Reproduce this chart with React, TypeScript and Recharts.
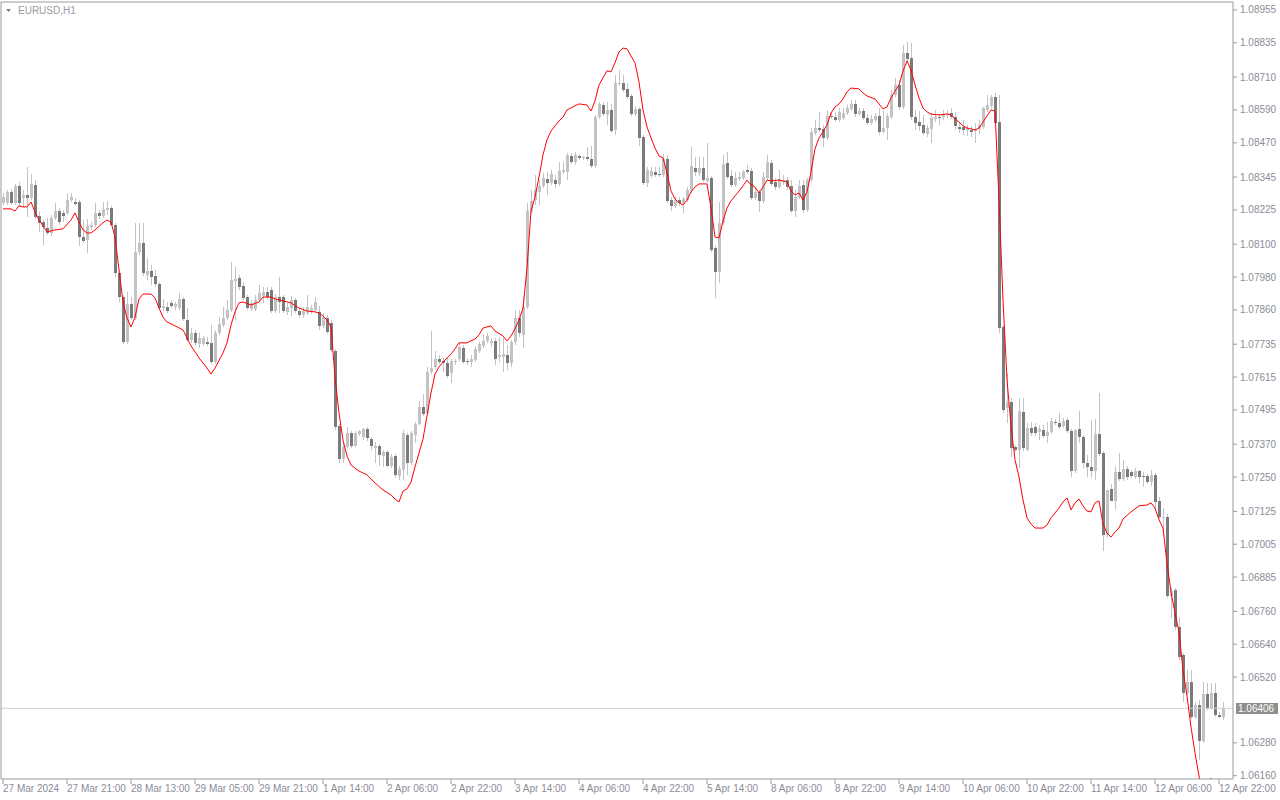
import { ComposedChart, Bar, Line, XAxis, YAxis, ReferenceLine } from 'recharts'

// EURUSD H1, 27 Mar 2024 05:00 .. 12 Apr 2024 23:00 (one entry per bar)
const timeLabels = [
  '27 Mar 2024', '27 Mar 21:00', '28 Mar 13:00', '29 Mar 05:00', '29 Mar 21:00',
  '1 Apr 14:00', '2 Apr 06:00', '2 Apr 22:00', '3 Apr 14:00', '4 Apr 06:00',
  '4 Apr 22:00', '5 Apr 14:00', '8 Apr 06:00', '8 Apr 22:00', '9 Apr 14:00',
  '10 Apr 06:00', '10 Apr 22:00', '11 Apr 14:00', '12 Apr 06:00', '12 Apr 22:00',
]
const tickBars = [0, 16, 32, 48, 64, 80, 96, 112, 128, 144, 160, 176, 192, 208, 224, 240, 256, 272, 288, 304]

const priceTicks = [
  1.08955, 1.08835, 1.0871, 1.0859, 1.0847, 1.08345, 1.08225, 1.081, 1.0798, 1.0786, 1.07735, 1.07615,
  1.07495, 1.0737, 1.0725, 1.07125, 1.07005, 1.06885, 1.0676, 1.0664, 1.0652, 1.0628, 1.0616,
]
const lastPrice = 1.06406

const opens = [
  1.08251, 1.08251, 1.08291, 1.08251, 1.08313, 1.08269, 1.0828, 1.08269, 1.08316, 1.08203,
  1.08181, 1.08159, 1.08141, 1.08196, 1.08221, 1.08214, 1.08214, 1.08261, 1.08254, 1.08254,
  1.08126, 1.08115, 1.08163, 1.0817, 1.08214, 1.08203, 1.08225, 1.08232, 1.0817, 1.07995,
  1.07907, 1.07743, 1.07882, 1.07831, 1.08072, 1.08105, 1.07988, 1.08002, 1.07984, 1.07955,
  1.07867, 1.07871, 1.07886, 1.07871, 1.07867, 1.079, 1.07823, 1.0775, 1.07776, 1.07736,
  1.07736, 1.07743, 1.0774, 1.0767, 1.07776, 1.07805, 1.07831, 1.0786, 1.07966, 1.07977,
  1.07948, 1.07907, 1.07864, 1.07864, 1.07896, 1.07911, 1.07926, 1.07933, 1.07856, 1.07907,
  1.07907, 1.07853, 1.07867, 1.07896, 1.07856, 1.07842, 1.07849, 1.07853, 1.0786, 1.07853,
  1.07802, 1.07831, 1.07813, 1.0771, 1.07437, 1.07316, 1.0736, 1.07411, 1.07364, 1.07407,
  1.07396, 1.07426, 1.07389, 1.07356, 1.07364, 1.07327, 1.07342, 1.07291, 1.07327, 1.07254,
  1.07276, 1.07404, 1.07302, 1.07404, 1.07444, 1.07506, 1.07484, 1.07634, 1.07652, 1.07681,
  1.07674, 1.07667, 1.0763, 1.0767, 1.07681, 1.07721, 1.07674, 1.0767, 1.07677, 1.0771,
  1.07729, 1.07747, 1.0774, 1.07747, 1.07688, 1.07688, 1.07696, 1.07667, 1.07743, 1.07831,
  1.07769, 1.07871, 1.08218, 1.08261, 1.08291, 1.08313, 1.08338, 1.08324, 1.08334, 1.0832,
  1.08364, 1.08364, 1.08422, 1.084, 1.08422, 1.08415, 1.08418, 1.08411, 1.08386, 1.08564,
  1.08608, 1.08572, 1.0859, 1.08517, 1.08685, 1.08689, 1.08667, 1.08641, 1.08575, 1.08594,
  1.08491, 1.08324, 1.08349, 1.08364, 1.08356, 1.08353, 1.08411, 1.08261, 1.0824, 1.08261,
  1.08251, 1.08261, 1.08294, 1.08378, 1.0836, 1.08378, 1.08331, 1.08342, 1.08086, 1.07999,
  1.08178, 1.08397, 1.08349, 1.08316, 1.08338, 1.08342, 1.08371, 1.08367, 1.08269, 1.08291,
  1.08258, 1.08342, 1.08397, 1.08327, 1.08309, 1.08327, 1.08334, 1.08313, 1.08221, 1.08272,
  1.08316, 1.08225, 1.08334, 1.08506, 1.08524, 1.08521, 1.08488, 1.08568, 1.08564, 1.08553,
  1.08561, 1.08579, 1.08594, 1.08612, 1.08575, 1.08586, 1.08561, 1.08543, 1.08553, 1.08568,
  1.0851, 1.08524, 1.08564, 1.08645, 1.08681, 1.08601, 1.08798, 1.0878, 1.08564, 1.08546,
  1.08535, 1.08502, 1.08521, 1.08557, 1.08564, 1.08564, 1.08575, 1.08579, 1.08564, 1.08528,
  1.08528, 1.08517, 1.08517, 1.08513, 1.08521, 1.08528, 1.0859, 1.08605, 1.08637, 1.08546,
  1.07798, 1.07502, 1.07524, 1.0736, 1.07349, 1.07488, 1.07349, 1.07429, 1.07433, 1.07415,
  1.07422, 1.074, 1.07415, 1.07451, 1.07448, 1.07437, 1.07459, 1.07418, 1.07272, 1.07426,
  1.07396, 1.07302, 1.07287, 1.07272, 1.07407, 1.07338, 1.07039, 1.07207, 1.07163, 1.07269,
  1.07243, 1.0728, 1.07269, 1.0725, 1.07272, 1.07254, 1.07254, 1.07232, 1.07258, 1.07163,
  1.07101, 1.07104, 1.06816, 1.06838, 1.06703, 1.06601, 1.06462, 1.06502, 1.06374, 1.06418,
  1.06287, 1.06458, 1.06407, 1.06462, 1.06382, 1.06374,
]

const highs = [
  1.08287, 1.08298, 1.08302, 1.0832, 1.08327, 1.08298, 1.08382, 1.08356, 1.08334, 1.08218,
  1.08188, 1.08196, 1.08207, 1.08251, 1.08232, 1.08225, 1.08287, 1.08287, 1.08269, 1.08261,
  1.08188, 1.08192, 1.08181, 1.08251, 1.08225, 1.08254, 1.08258, 1.0824, 1.08178, 1.08006,
  1.07915, 1.07926, 1.07907, 1.08178, 1.08178, 1.08178, 1.0805, 1.08024, 1.08006, 1.07962,
  1.079, 1.07889, 1.07896, 1.07889, 1.07922, 1.07907, 1.07867, 1.07794, 1.07787, 1.07776,
  1.07765, 1.07761, 1.07805, 1.07787, 1.07834, 1.07871, 1.07896, 1.08035, 1.08017, 1.07988,
  1.07962, 1.07915, 1.07896, 1.07915, 1.07951, 1.07944, 1.07944, 1.07944, 1.07918, 1.0798,
  1.07915, 1.07886, 1.07911, 1.07904, 1.07867, 1.07871, 1.07915, 1.07878, 1.07907, 1.07875,
  1.07849, 1.07842, 1.07823, 1.07718, 1.07444, 1.07375, 1.07433, 1.07418, 1.07418, 1.07422,
  1.07429, 1.07433, 1.07396, 1.07378, 1.07371, 1.07349, 1.07349, 1.07334, 1.07334, 1.07291,
  1.07422, 1.07411, 1.07418, 1.07451, 1.07528, 1.07553, 1.07652, 1.07783, 1.0771, 1.07696,
  1.07685, 1.07685, 1.07681, 1.07681, 1.0774, 1.07732, 1.07685, 1.07696, 1.07729, 1.07743,
  1.07772, 1.07776, 1.07758, 1.07758, 1.07761, 1.07758, 1.07732, 1.0775, 1.0786, 1.0786,
  1.07907, 1.08251, 1.08298, 1.08353, 1.08334, 1.0836, 1.08364, 1.08371, 1.08353, 1.084,
  1.084, 1.08433, 1.08433, 1.08437, 1.08429, 1.08422, 1.08455, 1.08459, 1.08572, 1.08619,
  1.08619, 1.08619, 1.08612, 1.08718, 1.08736, 1.08718, 1.08689, 1.08648, 1.08605, 1.08601,
  1.08499, 1.08382, 1.08382, 1.08382, 1.08382, 1.08429, 1.08426, 1.08272, 1.08272, 1.08272,
  1.08272, 1.08309, 1.08455, 1.08418, 1.08418, 1.08418, 1.0847, 1.08349, 1.08097, 1.08254,
  1.08426, 1.08437, 1.08371, 1.08364, 1.08364, 1.08371, 1.08389, 1.08378, 1.08305, 1.08298,
  1.08364, 1.08426, 1.08407, 1.08342, 1.08371, 1.08353, 1.08345, 1.08334, 1.08298, 1.08334,
  1.08334, 1.08342, 1.08524, 1.08553, 1.08583, 1.08535, 1.0859, 1.08583, 1.08583, 1.08597,
  1.08597, 1.08608, 1.08626, 1.08626, 1.08597, 1.08597, 1.08575, 1.08572, 1.08579, 1.08597,
  1.0859, 1.08579, 1.08663, 1.08707, 1.087, 1.08827, 1.08838, 1.08835, 1.0859, 1.08586,
  1.08572, 1.08535, 1.08579, 1.0859, 1.08572, 1.0859, 1.0859, 1.08597, 1.08583, 1.08543,
  1.08553, 1.08535, 1.08532, 1.08543, 1.08553, 1.08601, 1.08645, 1.08645, 1.08652, 1.08645,
  1.07805, 1.0763, 1.07539, 1.07367, 1.07539, 1.07539, 1.07448, 1.07451, 1.07448, 1.0744,
  1.0744, 1.07451, 1.07466, 1.07462, 1.07484, 1.07466, 1.07466, 1.07426, 1.07426, 1.07491,
  1.07404, 1.07331, 1.07459, 1.07462, 1.07557, 1.07345, 1.07203, 1.07225, 1.07291, 1.07338,
  1.07312, 1.07291, 1.07276, 1.07283, 1.07276, 1.07269, 1.07261, 1.07276, 1.07265, 1.07177,
  1.07137, 1.07115, 1.06845, 1.06845, 1.06739, 1.06608, 1.06546, 1.06546, 1.06429, 1.06436,
  1.06502, 1.06498, 1.06498, 1.06498, 1.06393, 1.06429,
]

const lows = [
  1.08243, 1.08243, 1.08243, 1.08243, 1.08236, 1.08236, 1.08199, 1.08261, 1.08192, 1.08145,
  1.08097, 1.08134, 1.0813, 1.08188, 1.0817, 1.08181, 1.08207, 1.08254, 1.0824, 1.08094,
  1.08105, 1.08068, 1.08152, 1.08163, 1.08192, 1.08196, 1.08207, 1.08163, 1.0798, 1.07889,
  1.07736, 1.07736, 1.07823, 1.07823, 1.08061, 1.07984, 1.07969, 1.07951, 1.07944, 1.0786,
  1.07856, 1.07849, 1.07867, 1.0786, 1.0786, 1.0782, 1.07743, 1.0774, 1.07729, 1.07721,
  1.07729, 1.07729, 1.07663, 1.07663, 1.07769, 1.07798, 1.07823, 1.07853, 1.07823, 1.07933,
  1.07896, 1.0786, 1.07856, 1.07856, 1.07889, 1.07886, 1.07896, 1.07849, 1.07849, 1.07849,
  1.07849, 1.07842, 1.07838, 1.07849, 1.07831, 1.07831, 1.07842, 1.07845, 1.07853, 1.07787,
  1.07794, 1.07772, 1.07707, 1.07422, 1.07302, 1.07302, 1.07353, 1.07356, 1.0736, 1.074,
  1.07385, 1.07382, 1.07349, 1.07302, 1.07291, 1.07287, 1.07287, 1.07283, 1.07247, 1.07239,
  1.07239, 1.07258, 1.07294, 1.07375, 1.07437, 1.07473, 1.07477, 1.07626, 1.07645, 1.07663,
  1.07634, 1.07612, 1.07594, 1.07659, 1.07674, 1.07663, 1.07659, 1.07652, 1.0767, 1.07703,
  1.07721, 1.0774, 1.07725, 1.07659, 1.0767, 1.07634, 1.07641, 1.07652, 1.07732, 1.07761,
  1.07721, 1.07864, 1.0821, 1.08243, 1.08243, 1.08305, 1.0828, 1.08316, 1.08305, 1.08313,
  1.08356, 1.08334, 1.08393, 1.08389, 1.08407, 1.08407, 1.08404, 1.08378, 1.08378, 1.08557,
  1.08568, 1.08535, 1.08506, 1.08499, 1.08678, 1.08656, 1.0863, 1.08568, 1.08568, 1.08459,
  1.08316, 1.08309, 1.08342, 1.08345, 1.08345, 1.08345, 1.08251, 1.08221, 1.08232, 1.0824,
  1.08214, 1.08254, 1.08287, 1.08349, 1.08349, 1.08327, 1.08324, 1.08072, 1.07904, 1.07959,
  1.0817, 1.08338, 1.08309, 1.08309, 1.08331, 1.08334, 1.08356, 1.08261, 1.08261, 1.08218,
  1.08251, 1.08334, 1.08313, 1.08298, 1.08302, 1.08316, 1.08298, 1.08214, 1.08199, 1.08265,
  1.08214, 1.08218, 1.08327, 1.08499, 1.0851, 1.08455, 1.0848, 1.08557, 1.08546, 1.08546,
  1.08553, 1.08572, 1.08586, 1.08564, 1.08568, 1.08553, 1.08535, 1.08535, 1.08546, 1.08499,
  1.08506, 1.0848, 1.08557, 1.08637, 1.0859, 1.08594, 1.08769, 1.08553, 1.08517, 1.08513,
  1.08499, 1.08491, 1.0847, 1.08546, 1.08535, 1.08553, 1.08561, 1.08557, 1.08517, 1.08506,
  1.08499, 1.08495, 1.08491, 1.0847, 1.08502, 1.08521, 1.08583, 1.08594, 1.08539, 1.07776,
  1.07484, 1.07448, 1.07323, 1.07342, 1.07283, 1.07345, 1.07345, 1.074, 1.074, 1.07385,
  1.07393, 1.07375, 1.07407, 1.0744, 1.07426, 1.07429, 1.07411, 1.0725, 1.07265, 1.07375,
  1.07283, 1.0725, 1.07247, 1.07239, 1.07327, 1.0698, 1.07031, 1.07163, 1.0713, 1.07236,
  1.07236, 1.07239, 1.07247, 1.07243, 1.07229, 1.07214, 1.07225, 1.07218, 1.0713, 1.07097,
  1.07057, 1.06809, 1.06736, 1.06692, 1.06582, 1.06429, 1.06455, 1.06367, 1.06367, 1.06217,
  1.0628, 1.064, 1.064, 1.06374, 1.06371, 1.06363,
]

const closes = [
  1.08272, 1.08291, 1.08251, 1.08313, 1.08251, 1.0828, 1.08269, 1.0832, 1.08199, 1.08178,
  1.08163, 1.08141, 1.08196, 1.08221, 1.08181, 1.08203, 1.08261, 1.08272, 1.08247, 1.08126,
  1.08112, 1.08167, 1.0817, 1.08214, 1.08203, 1.08229, 1.08232, 1.0817, 1.07995, 1.07907,
  1.07743, 1.07882, 1.07831, 1.08072, 1.08105, 1.07995, 1.08002, 1.0798, 1.07955, 1.07867,
  1.07875, 1.07856, 1.07875, 1.07882, 1.079, 1.07827, 1.0775, 1.07776, 1.0774, 1.07758,
  1.07758, 1.07736, 1.0767, 1.07776, 1.07809, 1.07831, 1.0786, 1.07969, 1.07973, 1.07944,
  1.07904, 1.07867, 1.07886, 1.07896, 1.07922, 1.07926, 1.07907, 1.07856, 1.07907, 1.07889,
  1.07856, 1.07871, 1.07896, 1.07856, 1.07842, 1.07856, 1.07871, 1.07867, 1.07889, 1.07802,
  1.07834, 1.0778, 1.07714, 1.07433, 1.07316, 1.0736, 1.07411, 1.07364, 1.07411, 1.07418,
  1.07426, 1.07393, 1.07364, 1.07364, 1.07331, 1.07342, 1.07291, 1.07323, 1.07258, 1.0728,
  1.07411, 1.07302, 1.07411, 1.07444, 1.07506, 1.0748, 1.07634, 1.07648, 1.07681, 1.0767,
  1.07667, 1.07619, 1.07674, 1.07674, 1.07725, 1.0767, 1.0767, 1.07681, 1.07718, 1.07736,
  1.07747, 1.07765, 1.07747, 1.07681, 1.07696, 1.07699, 1.07667, 1.07743, 1.07831, 1.07776,
  1.07871, 1.08221, 1.08258, 1.08298, 1.08313, 1.08342, 1.08324, 1.08356, 1.0832, 1.08367,
  1.08371, 1.08426, 1.084, 1.08426, 1.08415, 1.08418, 1.08411, 1.08386, 1.08564, 1.08612,
  1.08575, 1.0859, 1.08513, 1.08689, 1.08689, 1.08663, 1.08637, 1.08575, 1.08594, 1.08488,
  1.08324, 1.08371, 1.08367, 1.08353, 1.08353, 1.08411, 1.08258, 1.0824, 1.08261, 1.08251,
  1.08265, 1.08298, 1.08386, 1.08364, 1.08378, 1.08334, 1.08342, 1.08079, 1.07999, 1.08178,
  1.08393, 1.08345, 1.08316, 1.08342, 1.08345, 1.08364, 1.08364, 1.08269, 1.08291, 1.08258,
  1.08345, 1.084, 1.0832, 1.08309, 1.08338, 1.08334, 1.08309, 1.08221, 1.08272, 1.08313,
  1.08225, 1.08334, 1.0851, 1.08524, 1.08517, 1.08488, 1.08568, 1.08564, 1.08553, 1.08583,
  1.08579, 1.08597, 1.08612, 1.08575, 1.08586, 1.08561, 1.08543, 1.08557, 1.08568, 1.0851,
  1.08524, 1.08568, 1.08645, 1.08681, 1.08601, 1.08798, 1.08776, 1.08564, 1.08543, 1.08532,
  1.08506, 1.08524, 1.08561, 1.08564, 1.08561, 1.08575, 1.08579, 1.08564, 1.08532, 1.08521,
  1.08517, 1.08524, 1.0851, 1.08521, 1.08535, 1.08597, 1.08608, 1.08637, 1.08543, 1.07794,
  1.07495, 1.07524, 1.07356, 1.07349, 1.07491, 1.07356, 1.07429, 1.07411, 1.07411, 1.07426,
  1.074, 1.07415, 1.07455, 1.07448, 1.07433, 1.07455, 1.07418, 1.07272, 1.07422, 1.07396,
  1.07302, 1.07287, 1.07272, 1.07407, 1.07334, 1.07039, 1.07203, 1.07163, 1.07269, 1.07243,
  1.0728, 1.0725, 1.07254, 1.07272, 1.0725, 1.0725, 1.07232, 1.07258, 1.07159, 1.07104,
  1.07104, 1.06816, 1.06834, 1.06703, 1.06593, 1.06462, 1.06502, 1.06374, 1.06418, 1.06287,
  1.06458, 1.06407, 1.06462, 1.06382, 1.06374, 1.06406,
]

// red indicator line, [bar index, value]
const redLine: [number, number][] = [
  [0, 1.08229], [2, 1.08229], [3, 1.08221], [4, 1.0824], [5, 1.08236], [6, 1.08236], [7, 1.08254], [8, 1.08218],
  [9, 1.08188], [10, 1.08167], [11, 1.08145], [13, 1.08152], [15, 1.08156], [17, 1.08188], [18, 1.08214],
  [19, 1.08181], [20, 1.08152], [21, 1.08141], [22, 1.08141], [23, 1.08152], [25, 1.08178], [26, 1.08188],
  [27, 1.08181], [28, 1.08126], [29, 1.08006], [30, 1.07889], [31, 1.07831], [32, 1.07798], [33, 1.07834],
  [34, 1.079], [35, 1.07918], [37, 1.07918], [38, 1.07904], [39, 1.07867], [40, 1.07834], [41, 1.07816],
  [43, 1.07802], [45, 1.07787], [46, 1.07758], [47, 1.07729], [49, 1.07685], [51, 1.07648], [52, 1.07626],
  [53, 1.07648], [55, 1.07703], [56, 1.0774], [57, 1.07805], [58, 1.07853], [59, 1.07886], [60, 1.07889],
  [62, 1.07878], [64, 1.07889], [65, 1.07907], [67, 1.07907], [68, 1.079], [70, 1.07893], [72, 1.07886],
  [74, 1.07867], [76, 1.07856], [78, 1.07853], [79, 1.07849], [80, 1.07838], [81, 1.07823], [82, 1.07798],
  [83, 1.07615], [84, 1.07484], [85, 1.07385], [86, 1.07327], [87, 1.07294], [89, 1.07272], [91, 1.07258],
  [93, 1.07229], [95, 1.07203], [97, 1.07185], [98, 1.0717], [99, 1.07159], [100, 1.07199], [101, 1.07207],
  [102, 1.07232], [103, 1.07287], [104, 1.07338], [105, 1.07389], [106, 1.07473], [107, 1.07557],
  [108, 1.07626], [109, 1.07652], [110, 1.0767], [112, 1.07699], [113, 1.07718], [114, 1.0774], [116, 1.0774],
  [118, 1.07754], [119, 1.07769], [120, 1.07794], [122, 1.07802], [123, 1.07783], [125, 1.07765],
  [126, 1.07747], [127, 1.07765], [128, 1.07791], [129, 1.07823], [130, 1.07867], [131, 1.08013],
  [132, 1.08221], [133, 1.08272], [134, 1.08345], [135, 1.08426], [136, 1.08481], [137, 1.08513],
  [138, 1.08532], [139, 1.0855], [140, 1.08564], [141, 1.0859], [143, 1.08605], [144, 1.08612], [146, 1.08608],
  [147, 1.08586], [148, 1.08623], [149, 1.08681], [150, 1.08707], [151, 1.08733], [152, 1.08729],
  [153, 1.08762], [154, 1.08802], [155, 1.08816], [156, 1.08813], [157, 1.08787], [158, 1.08762],
  [159, 1.08692], [160, 1.0859], [161, 1.08528], [162, 1.08488], [163, 1.08451], [164, 1.08422],
  [165, 1.08415], [166, 1.0836], [167, 1.08294], [168, 1.08265], [169, 1.08251], [170, 1.08243],
  [171, 1.08261], [172, 1.08291], [173, 1.08309], [174, 1.0832], [176, 1.0832], [177, 1.08232],
  [178, 1.08126], [179, 1.08123], [180, 1.08185], [181, 1.08232], [182, 1.08258], [183, 1.08276],
  [184, 1.08294], [185, 1.08313], [186, 1.08334], [187, 1.08316], [188, 1.08309], [189, 1.08287],
  [190, 1.08309], [191, 1.08334], [192, 1.08331], [194, 1.08334], [196, 1.08327], [197, 1.08294],
  [198, 1.0828], [199, 1.08287], [200, 1.08261], [201, 1.08291], [202, 1.08364], [203, 1.08448],
  [204, 1.08488], [205, 1.0851], [206, 1.08535], [207, 1.08579], [208, 1.08601], [209, 1.08612],
  [210, 1.0863], [211, 1.08656], [212, 1.0867], [214, 1.08667], [215, 1.08652], [216, 1.08641],
  [218, 1.0863], [219, 1.08612], [220, 1.08594], [221, 1.08601], [222, 1.08634], [223, 1.08659],
  [224, 1.08681], [225, 1.08732], [226, 1.08769], [227, 1.08736], [228, 1.08681], [229, 1.08634],
  [230, 1.08597], [231, 1.08583], [232, 1.08575], [234, 1.08572], [236, 1.08575], [237, 1.08572],
  [238, 1.08557], [239, 1.08546], [240, 1.08532], [241, 1.08524], [242, 1.08521], [243, 1.08517],
  [244, 1.08524], [245, 1.08546], [246, 1.08568], [247, 1.0859], [248, 1.08586], [249, 1.08261],
  [250, 1.07896], [251, 1.07605], [252, 1.07437], [253, 1.07313], [254, 1.0725], [255, 1.07167],
  [256, 1.07101], [257, 1.07079], [258, 1.07064], [260, 1.07064], [261, 1.07075], [262, 1.07101],
  [263, 1.07119], [264, 1.07137], [265, 1.07159], [266, 1.07174], [267, 1.0713], [268, 1.07156],
  [269, 1.0717], [270, 1.07145], [271, 1.07126], [272, 1.07123], [273, 1.07156], [274, 1.07163],
  [275, 1.07079], [276, 1.07046], [277, 1.07031], [278, 1.0705], [279, 1.07064], [280, 1.07097],
  [282, 1.07123], [284, 1.07145], [286, 1.07148], [287, 1.07156], [288, 1.07137], [289, 1.07094],
  [290, 1.07064], [291, 1.06936], [292, 1.0683], [293, 1.06754], [294, 1.06684], [295, 1.06546],
  [296, 1.06451], [297, 1.06338], [298, 1.06243], [299, 1.06159], [300, 1.0609], [301, 1.06108],
  [302, 1.06152],
]

const FONT = '"Liberation Sans", Arial, sans-serif'
const AXIS = '#9a9a9a'
const TEXT = '#8c8c98'
const yDomain = [1.06148, 1.08984]

const data = opens.map((o, i) => ({
  i,
  open: o,
  high: highs[i],
  low: lows[i],
  close: closes[i],
  red: null as number | null,
}))
redLine.forEach(([i, v]) => {
  data[i].red = v
})

function Candle(props: any) {
  const { x, y, width, height, payload } = props
  if (!payload) return null
  const { open, close, high, low } = payload
  const top = Math.min(y, y + height)
  const h = Math.abs(height)
  const cx = Math.floor(x + width / 2)
  const span = high - low || 1
  const toY = (v: number) => top + ((high - v) / span) * h
  const bTop = Math.round(toY(Math.max(open, close)))
  const bBot = Math.round(toY(Math.min(open, close)))
  const bull = close > open
  return (
    <g shapeRendering="crispEdges">
      <rect x={cx} y={Math.round(top)} width={1} height={Math.max(1, Math.round(h))} fill="#c3c3c3" />
      <rect
        x={cx - 1}
        y={bTop}
        width={3}
        height={Math.max(1, bBot - bTop)}
        fill={bull ? '#c3c3c3' : '#7b7b7b'}
      />
    </g>
  )
}

function TimeTick({ x, y, payload }: any) {
  const k = tickBars.indexOf(payload.value)
  return (
    <text x={x} y={y} dy={6} fontSize={10} fontFamily={FONT} fill={TEXT} textAnchor="start">
      {timeLabels[k]}
    </text>
  )
}

function PriceTick({ x, y, payload }: any) {
  return (
    <text x={x + 1} y={y} dy={3.5} fontSize={10} fontFamily={FONT} fill={TEXT} textAnchor="start">
      {payload.value.toFixed(5)}
    </text>
  )
}

function LastPriceTag({ viewBox }: any) {
  const right = viewBox.x + viewBox.width
  return (
    <g>
      <rect x={right + 3} y={viewBox.y - 5.5} width={42} height={11} fill="#8e8e8e" shapeRendering="crispEdges" />
      <text x={right + 5} y={viewBox.y} dy={3.5} fontSize={10} fontFamily={FONT} fill="#ffffff">
        {lastPrice.toFixed(5)}
      </text>
    </g>
  )
}

export default function App() {
  return (
    <div style={{ position: 'absolute', left: 0, top: 0, width: 1280, height: 800, background: '#fff' }}>
      <ComposedChart width={1280} height={800} data={data} margin={{ top: 2, right: 0, bottom: 0, left: 0 }}>
        <XAxis
          dataKey="i"
          type="category"
          ticks={tickBars}
          interval={0}
          height={21}
          padding={{ left: 0, right: 8 }}
          axisLine={{ stroke: AXIS }}
          tickLine={{ stroke: AXIS }}
          tickSize={5}
          tick={<TimeTick />}
        />
        <YAxis yAxisId="frame" orientation="left" width={1} tick={false} tickLine={false} axisLine={{ stroke: AXIS }} />
        <YAxis
          yAxisId="p"
          orientation="right"
          domain={yDomain}
          allowDataOverflow
          ticks={priceTicks}
          interval={0}
          width={47}
          axisLine={{ stroke: AXIS }}
          tickLine={{ stroke: AXIS }}
          tickSize={4}
          tick={<PriceTick />}
        />
        <ReferenceLine yAxisId="p" y={yDomain[1]} stroke={AXIS} />
        <ReferenceLine yAxisId="p" y={lastPrice} stroke="#d0d0d0" label={<LastPriceTag />} />
        <Bar
          yAxisId="p"
          dataKey={(d: any) => [d.low, d.high]}
          barSize={3}
          shape={<Candle />}
          isAnimationActive={false}
        />
        <Line
          yAxisId="p"
          dataKey="red"
          type="linear"
          stroke="#ff0000"
          strokeWidth={1}
          dot={false}
          connectNulls
          isAnimationActive={false}
        />
      </ComposedChart>
      <svg width={120} height={20} style={{ position: 'absolute', left: 0, top: 0 }}>
        <polygon points="6,9 11,9 8.5,12" fill="#7f7f7f" />
        <text x={18} y={14} fontSize={10} fontFamily={FONT} fill="#9a9aa4">
          EURUSD,H1
        </text>
      </svg>
    </div>
  )
}
